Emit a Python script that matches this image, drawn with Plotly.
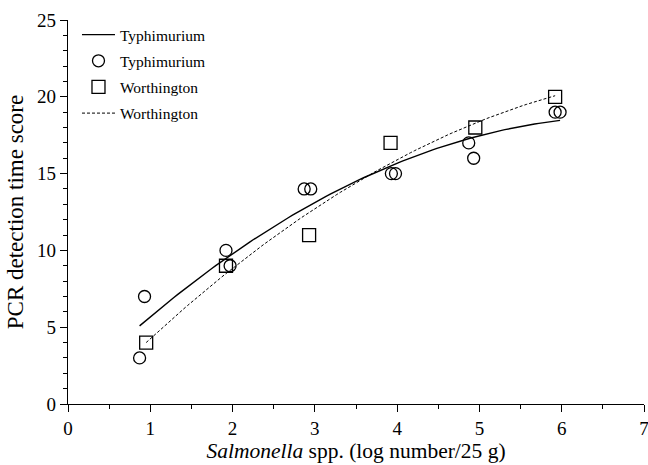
import numpy as np
import plotly.graph_objects as go

# Data
typh_x = [0.87, 0.93, 1.92, 1.97, 2.87, 2.95, 3.93, 3.98, 4.87, 4.93, 5.92, 5.98]
typh_y = [3, 7, 10, 9, 14, 14, 15, 15, 17, 16, 19, 19]
worth_x = [0.95, 1.92, 2.93, 3.92, 4.95, 5.92]
worth_y = [4, 9, 11, 17, 18, 20]
x_title = "<i>Salmonella</i> spp. (log number/25 g)"
y_title = "PCR detection time score"

# quadratic fits
ct = np.polyfit(typh_x, typh_y, 2)
cw = np.polyfit(worth_x, worth_y, 2)
xt = np.linspace(min(typh_x), max(typh_x), 100)
xw = np.linspace(min(worth_x), max(worth_x), 100)

FONT = "Liberation Serif"

fig = go.Figure()
fig.add_trace(go.Scatter(x=xt, y=np.polyval(ct, xt), mode="lines", name="Typhimurium",
                         line=dict(color="black", width=1.4), legendgroup="a"))
fig.add_trace(go.Scatter(x=typh_x, y=typh_y, mode="markers", name="Typhimurium",
                         marker=dict(symbol="circle-open", size=12, color="black", line=dict(width=1.3)),
                         legendgroup="b"))
fig.add_trace(go.Scatter(x=worth_x, y=worth_y, mode="markers", name="Worthington",
                         marker=dict(symbol="square-open", size=13, color="black", line=dict(width=1.3)),
                         legendgroup="c"))
fig.add_trace(go.Scatter(x=xw, y=np.polyval(cw, xw), mode="lines", name="Worthington",
                         line=dict(color="black", width=1, dash="3px,2px"), legendgroup="d"))

fig.update_layout(
    width=648, height=465,
    margin=dict(l=68, r=4, t=20, b=61),
    paper_bgcolor="white", plot_bgcolor="white",
    font=dict(family=FONT, color="black", size=19),
    legend=dict(x=0.0156, y=1.005, xanchor="left", yanchor="top", bgcolor="rgba(0,0,0,0)",
                font=dict(size=15.5, family=FONT), tracegroupgap=3, itemwidth=33),
    xaxis=dict(range=[0, 7], tick0=0, dtick=1, showline=True, linecolor="black", linewidth=1.3,
               ticks="outside", ticklen=7, tickcolor="black", showgrid=False, zeroline=False,
               automargin=False, tickfont=dict(size=19), ticklabeloverflow="allow",
               minor=dict(dtick=0.5, ticks="outside", ticklen=4, tickcolor="black"),
               title=dict(text=x_title, font=dict(size=21.5), standoff=0)),
    yaxis=dict(range=[0, 25], tick0=0, dtick=5, showline=True, linecolor="black", linewidth=1.3,
               ticks="outside", ticklen=7, tickcolor="black", showgrid=False, zeroline=False,
               automargin=False, tickfont=dict(size=19), ticklabeloverflow="allow",
               minor=dict(dtick=1, ticks="outside", ticklen=4, tickcolor="black"),
               title=dict(text=y_title, font=dict(size=23), standoff=6)),
)

fig.write_html("out.html", config={"displayModeBar": False},
               post_script="document.body.style.margin='0';document.body.style.overflow='hidden';")
